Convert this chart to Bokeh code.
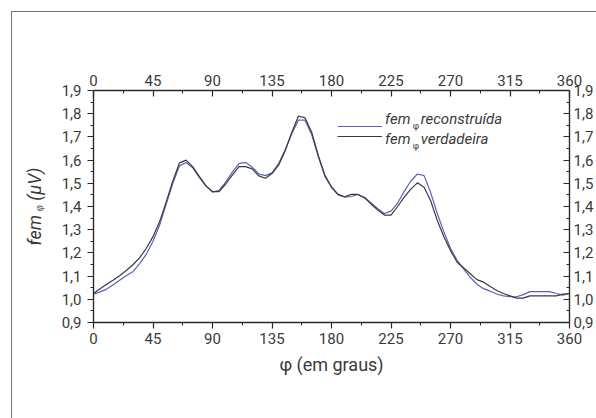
from bokeh.plotting import figure
from bokeh.models import (Range1d, LinearAxis, FixedTicker, Label, Legend, LegendItem,
                          CustomJSTickFormatter, InlineStyleSheet)
from bokeh.embed import file_html
from bokeh.resources import INLINE

# ---------------- data ----------------
phi = [0, 5, 10, 15, 20, 25, 30, 35, 40, 45, 50, 55, 60, 65, 70, 75, 80, 85, 90, 95,
       100, 105, 110, 115, 120, 125, 130, 135, 140, 145, 150, 155, 160, 165, 170, 175,
       180, 185, 190, 195, 200, 205, 210, 215, 220, 225, 230, 235, 240, 245, 250, 255,
       260, 265, 270, 275, 280, 285, 290, 295, 300, 305, 310, 315, 320, 325, 330, 335,
       340, 345, 350, 355, 360]

fem_verdadeira = [1.025, 1.045, 1.065, 1.083, 1.103, 1.125, 1.150, 1.180, 1.220, 1.270,
                  1.335, 1.420, 1.510, 1.588, 1.600, 1.572, 1.530, 1.490, 1.464, 1.464,
                  1.497, 1.535, 1.572, 1.572, 1.562, 1.532, 1.522, 1.542, 1.578, 1.640,
                  1.720, 1.790, 1.782, 1.720, 1.620, 1.535, 1.485, 1.452, 1.442, 1.452,
                  1.452, 1.437, 1.410, 1.385, 1.363, 1.363, 1.400, 1.440, 1.475, 1.502,
                  1.483, 1.425, 1.340, 1.270, 1.210, 1.160, 1.135, 1.110, 1.085, 1.074,
                  1.055, 1.038, 1.025, 1.015, 1.005, 1.005, 1.015, 1.015, 1.015, 1.015,
                  1.015, 1.022, 1.025]

fem_reconstruida = [1.022, 1.032, 1.044, 1.063, 1.083, 1.103, 1.120, 1.155, 1.195, 1.250,
                    1.320, 1.410, 1.500, 1.575, 1.590, 1.567, 1.525, 1.488, 1.462, 1.470,
                    1.505, 1.548, 1.585, 1.590, 1.570, 1.540, 1.533, 1.545, 1.585, 1.645,
                    1.715, 1.772, 1.772, 1.710, 1.615, 1.530, 1.482, 1.450, 1.440, 1.443,
                    1.452, 1.440, 1.415, 1.390, 1.370, 1.380, 1.415, 1.465, 1.510, 1.540,
                    1.533, 1.460, 1.370, 1.290, 1.220, 1.168, 1.130, 1.095, 1.065, 1.046,
                    1.035, 1.023, 1.015, 1.011, 1.011, 1.020, 1.033, 1.033, 1.033, 1.033,
                    1.025, 1.018, 1.025]

x_ticks = [0, 45, 90, 135, 180, 225, 270, 315, 360]
x_minor = [22.5, 67.5, 112.5, 157.5, 202.5, 247.5, 292.5, 337.5]
y_ticks = [0.9, 1.0, 1.1, 1.2, 1.3, 1.4, 1.5, 1.6, 1.7, 1.8, 1.9]
y_minor = [0.95, 1.05, 1.15, 1.25, 1.35, 1.45, 1.55, 1.65, 1.75, 1.85]

x_title = "\u03c6 (em graus)"
y_title = "fem \u1d69 (\u03bcV)"
legend_words = ["reconstru\u00edda", "verdadeira"]

# ---------------- style ----------------
FONT = "Roboto"
TXT = "#3a3a3a"
AX = "#2a2a2a"
BLUE = "#5862bd"
BLACK = "#3a3a3a"

p = figure(width=596, height=418, x_range=Range1d(0, 360), y_range=Range1d(0.9, 1.9),
           output_backend="svg", toolbar_location=None,
           min_border_left=93, min_border_right=25, min_border_top=90, min_border_bottom=96)
p.outline_line_color = None
p.grid.visible = False
p.background_fill_color = "white"
p.border_fill_color = "white"

# light grey panel frame (top and left edges), as in the original figure
p.stylesheets = [InlineStyleSheet(css=(
    ":host{position:relative;}"
    ":host::after{content:'';position:absolute;left:11px;top:11px;right:0;bottom:0;"
    "border-top:1.5px solid #777;border-left:1.5px solid #777;pointer-events:none;}"))]

comma_fmt = CustomJSTickFormatter(code="return tick.toFixed(1).replace('.', ',');")


def style_axis(ax, inward):
    ax.axis_line_color = AX
    ax.axis_line_width = 1.4
    ax.major_tick_line_color = AX
    ax.minor_tick_line_color = AX
    ax.major_tick_line_width = 1.2
    ax.minor_tick_line_width = 1.0
    if inward:
        ax.major_tick_in, ax.major_tick_out = 6, 0
        ax.minor_tick_in, ax.minor_tick_out = 3, 0
    else:
        ax.major_tick_in, ax.major_tick_out = 0, 6
        ax.minor_tick_in, ax.minor_tick_out = 0, 3
    ax.major_label_text_font = FONT
    ax.major_label_text_font_size = "15px"
    ax.major_label_text_color = TXT


xb = p.xaxis[0]
xb.ticker = FixedTicker(ticks=x_ticks, minor_ticks=x_minor)
style_axis(xb, False)
xb.major_label_standoff = 4
xb.axis_label = x_title
xb.axis_label_text_font = FONT
xb.axis_label_text_font_size = "18px"
xb.axis_label_text_font_style = "normal"
xb.axis_label_text_color = TXT
xb.axis_label_standoff = 7

yl = p.yaxis[0]
yl.ticker = FixedTicker(ticks=y_ticks, minor_ticks=y_minor)
yl.formatter = comma_fmt
style_axis(yl, False)
yl.major_label_standoff = 6
yl.axis_label = y_title
yl.axis_label_text_font = FONT
yl.axis_label_text_font_size = "18px"
yl.axis_label_text_font_style = "italic"
yl.axis_label_text_color = TXT
yl.axis_label_standoff = 14

xt = LinearAxis(ticker=FixedTicker(ticks=x_ticks, minor_ticks=x_minor))
style_axis(xt, True)
xt.major_label_standoff = 5
p.add_layout(xt, "above")

yr = LinearAxis(ticker=FixedTicker(ticks=y_ticks, minor_ticks=y_minor), formatter=comma_fmt)
style_axis(yr, True)
yr.major_label_standoff = 4
p.add_layout(yr, "right")

# curves
r_rec = p.line(phi, fem_reconstruida, line_color=BLUE, line_width=1.2)
r_ver = p.line(phi, fem_verdadeira, line_color=BLACK, line_width=1.2)

legend = Legend(items=[LegendItem(label=" ", renderers=[r_rec]),
                       LegendItem(label=" ", renderers=[r_ver])],
                location=(244, 181), orientation="vertical",
                glyph_width=45, glyph_height=10, label_height=10, label_standoff=0,
                spacing=0, padding=0, margin=0, border_line_color=None,
                background_fill_alpha=0,
                label_text_font=FONT, label_text_font_size="10px", label_text_color=TXT)
p.add_layout(legend, "center")

for y_txt, y_sub, word in zip([1.778, 1.692], [1.745, 1.659], legend_words):
    p.add_layout(Label(x=220.5, y=y_txt, text="fem", text_font=FONT, text_font_size="15px",
                       text_font_style="italic", text_color=TXT, text_align="left",
                       text_baseline="alphabetic"))
    p.add_layout(Label(x=241.5, y=y_sub, text="\u03c6", text_font=FONT, text_font_size="9px",
                       text_color=TXT, text_align="left", text_baseline="alphabetic"))
    p.add_layout(Label(x=247.5, y=y_txt, text=word, text_font=FONT, text_font_size="15px",
                       text_font_style="italic", text_color=TXT, text_align="left",
                       text_baseline="alphabetic"))

open("out.html", "w").write(file_html(p, INLINE))
